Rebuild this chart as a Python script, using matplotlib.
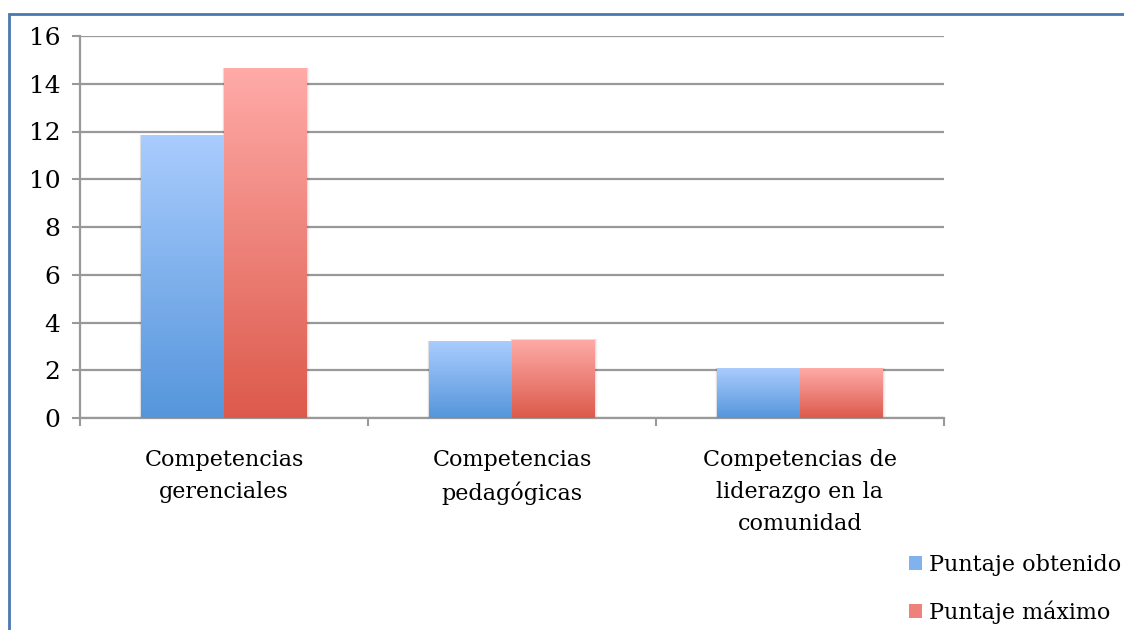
import numpy as np
import matplotlib
matplotlib.use("Agg")
import matplotlib.pyplot as plt
from matplotlib.patches import Rectangle, Patch
from matplotlib.colors import LinearSegmentedColormap

categories = ["Competencias\ngerenciales", "Competencias\npedagógicas",
              "Competencias de\nliderazgo en la\ncomunidad"]
obtenido = [11.85, 3.22, 2.09]
maximo = [14.66, 3.27, 2.09]
series_names = ["Puntaje obtenido", "Puntaje máximo"]
yticks = [0, 2, 4, 6, 8, 10, 12, 14, 16]

plt.rcParams['font.family'] = ['DejaVu Serif']

fig = plt.figure(figsize=(11.24, 6.3), dpi=100)
ax = fig.add_axes([80/1124, 1-418/630, 864/1124, 382/630])

x = np.arange(len(categories))
w = 0.288
blue_cmap = LinearSegmentedColormap.from_list("b", ["#5596DB", "#AACCFE"])
red_cmap = LinearSegmentedColormap.from_list("r", ["#DC5A4C", "#FFABA8"])
grad = np.linspace(0, 1, 256).reshape(-1, 1)

b1 = ax.bar(x - w/2, obtenido, w, color="none", zorder=3)
b2 = ax.bar(x + w/2, maximo, w, color="none", zorder=3)
for bars, cmap in ((b1, blue_cmap), (b2, red_cmap)):
    for p in bars:
        x0, y0 = p.get_x(), p.get_y()
        ww, hh = p.get_width(), p.get_height()
        # subtle soft shadow
        for k, a in ((0.004, 0.06), (0.008, 0.04), (0.012, 0.025)):
            sh = Rectangle((x0 - k/2, y0), ww + k * 1.5, hh + 0.02, facecolor="#000000",
                           alpha=a, edgecolor="none", zorder=2)
            ax.add_patch(sh)
        im = ax.imshow(grad, extent=(x0, x0 + ww, y0, y0 + hh), origin="lower",
                       cmap=cmap, aspect="auto", zorder=3, interpolation="bilinear")
        im.set_clip_path(p)

ax.set_xlim(-0.5, 2.5)
ax.set_ylim(0, 16)
ax.set_yticks(yticks)
ax.set_yticklabels([str(t) for t in yticks], fontsize=18)
ax.yaxis.grid(True, color="#999999", linewidth=1.6, zorder=0)
ax.set_axisbelow(True)

ax.set_xticks(x)
ax.set_xticklabels(categories, fontsize=16, linespacing=1.6)
ax.tick_params(axis="x", which="major", length=0, pad=22)
ax.set_xticks([-0.5, 0.5, 1.5, 2.5], minor=True)
ax.tick_params(axis="x", which="minor", length=6, width=1.5, color="#999999", direction="out")
ax.tick_params(axis="y", length=6, width=1.5, color="#999999", pad=8)

for s in ("top", "right"):
    ax.spines[s].set_visible(False)
for s in ("left", "bottom"):
    ax.spines[s].set_color("#999999")
    ax.spines[s].set_linewidth(1.6)

handles = [Patch(facecolor="#80B2EE", edgecolor="none"),
           Patch(facecolor="#EE817A", edgecolor="none")]
fig.legend(handles, series_names, loc="upper left",
           bbox_to_anchor=(900/1124, 1-545/630), frameon=False, fontsize=16,
           handlelength=0.6, handleheight=0.6, handletextpad=0.3, labelspacing=1.1,
           borderaxespad=0)

# figure border (chart frame)
fig.patches.append(Rectangle((9/1124, -0.1), 1.2, (630-14)/630 + 0.1,
                             transform=fig.transFigure, fill=False,
                             edgecolor="#4A78B0", linewidth=2))

fig.savefig("out.png", dpi=100)
